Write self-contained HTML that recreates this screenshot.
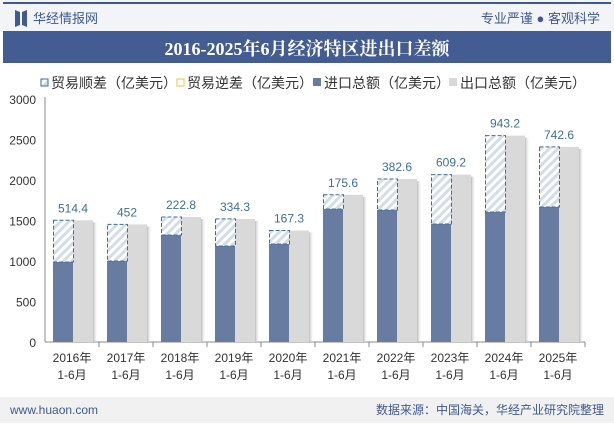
<!DOCTYPE html>
<html><head><meta charset="utf-8"><style>
body{margin:0;width:614px;height:423px;overflow:hidden;background:#fff;font-family:"Liberation Sans","Noto Sans CJK SC",sans-serif;}
</style></head><body>
<svg width="614" height="423" xmlns="http://www.w3.org/2000/svg">
<defs>
<pattern id="hatch" width="6" height="6" patternUnits="userSpaceOnUse" patternTransform="rotate(45)">
<rect width="6" height="6" fill="#fff"/><rect width="3" height="6" fill="#d3dde8"/></pattern>
<linearGradient id="sh" x1="0" x2="1"><stop offset="0" stop-color="#bbb"/><stop offset="1" stop-color="#fff" stop-opacity="0"/></linearGradient>
</defs>
<rect x="0" y="0" width="614" height="32" fill="#f3f4f8"/>
<rect x="3" y="2" width="608" height="2" fill="#3f5a8f"/>
<path d="M15 10 L20 12 L20 25 L15 27 Z M22 12 L27 10 L27 27 L22 25 Z" fill="#3f5a8f"/>
<text x="33" y="23" font-size="13" fill="#3f5a8f">华经情报网</text>
<text x="600" y="23" font-size="13" fill="#3f5a8f" text-anchor="end">专业严谨 ● 客观科学</text>
<rect x="3" y="31" width="608" height="32" fill="#435c91"/>
<text x="307" y="55" font-size="18" font-weight="bold" fill="#fff" text-anchor="middle" font-family="Liberation Serif,Noto Serif CJK SC,serif">2016-2025年6月经济特区进出口差额</text>
<g font-size="14" fill="#333">
<rect x="41" y="79" width="7" height="7" fill="url(#hatch)" stroke="#3f6e96" stroke-width="1"/><text x="51" y="88">贸易顺差（亿美元）</text>
<rect x="177" y="79" width="7" height="7" fill="#fff" stroke="#f0c040" stroke-width="1"/><text x="187" y="88">贸易逆差（亿美元）</text>
<rect x="313" y="78" width="8" height="8" fill="#687ba0"/><text x="324" y="88">进口总额（亿美元）</text>
<rect x="449" y="78" width="8" height="8" fill="#d9d9d9"/><text x="460" y="88">出口总额（亿美元）</text>
</g>
<g id="plot"></g>
<rect x="0" y="397" width="614" height="26" fill="#f1f1f1"/>
<text x="10" y="414" font-size="12" fill="#3f5a8f">www.huaon.com</text>
<text x="604" y="414" font-size="12" fill="#3f5a8f" text-anchor="end">数据来源：中国海关，华经产业研究院整理</text>
</svg>
<script>
const categories=["2016年","2017年","2018年","2019年","2020年","2021年","2022年","2023年","2024年","2025年"];
const imports=[988,1000,1321,1185,1210,1642,1630,1457,1605,1667];
const surplus=[514.4,452,222.8,334.3,167.3,175.6,382.6,609.2,943.2,742.6];
const yTicks=[0,500,1000,1500,2000,2500,3000];
const NS="http://www.w3.org/2000/svg";
const g=document.getElementById('plot');
const x0=45,cw=54,y0=342,k=81/1000;
const y=v=>y0-v*k;
function el(t,a,txt){const e=document.createElementNS(NS,t);for(const n in a)e.setAttribute(n,a[n]);if(txt!==undefined)e.textContent=txt;g.appendChild(e);return e;}
yTicks.forEach(t=>{
 const e=el('text',{x:36,y:y(t)+5,'font-size':12,fill:'#333','text-anchor':'end'},t);
 
 
});
const ax=el('line',{x1:x0,y1:y(3000)-2,x2:x0,y2:y0,stroke:'#888'});


const xa=el('line',{x1:x0,y1:y0,x2:x0+cw*10,y2:y0,stroke:'#888'});


categories.forEach((c,i)=>{
 const cx=x0+cw*i;
 el('line',{x1:cx+cw,y1:y0,x2:cx+cw,y2:y0+5,stroke:'#888'});
 const ex=imports[i]+surplus[i];
 el('rect',{x:cx+48,y:y(ex)+2,width:5,height:y0-y(ex)-2,fill:'url(#sh)'});
 const b2=el('rect',{x:cx+28,y:y(ex),width:20,height:y0-y(ex),fill:'#d9d9d9'});
 
 
 const b1=el('rect',{x:cx+8,y:y(imports[i]),width:20,height:y0-y(imports[i]),fill:'#687ba0'});
 
 
 const h=el('rect',{x:cx+8.5,y:y(ex),width:20,height:y(imports[i])-y(ex),fill:'url(#hatch)',stroke:'#3f6e96','stroke-dasharray':'4,2','stroke-width':1});
 
 
 const l=el('text',{x:cx+28,y:y(ex)-8,'font-size':12,fill:'#3f6e96','text-anchor':'middle'},surplus[i]);
 
 
 const t1=el('text',{x:cx+cw/2,y:362,'font-size':12,fill:'#333','text-anchor':'middle'},c);
 
 
 const t2=el('text',{x:cx+cw/2,y:379,'font-size':12,fill:'#333','text-anchor':'middle'},'1-6月');
 
 
});
</script>
</body></html>
